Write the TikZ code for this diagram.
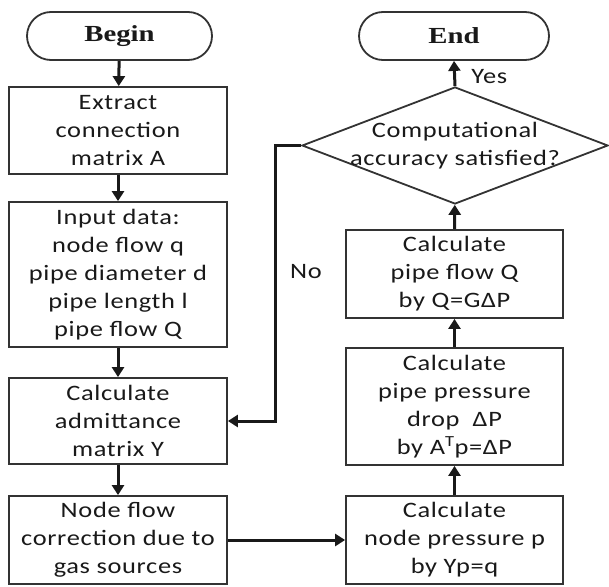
\documentclass[tikz,border=0pt]{standalone}
\usepackage{fontspec}
\setmainfont{Carlito}[FakeStretch=1.2, LetterSpace=3]
\newfontfamily\termfont{Liberation Serif}[FakeStretch=1.25]
\usetikzlibrary{shapes.geometric,shapes.misc,arrows.meta}

\begin{document}
\begin{tikzpicture}[x=1pt,y=-1pt,
  every node/.style={font=\fontsize{22}{28}\selectfont, text=black!90},
  box/.style={draw=black!80, line width=1.8pt, align=center, inner sep=0pt},
  term/.style={draw=black!80, line width=1.8pt, rounded rectangle, inner sep=0pt,
    minimum height=48pt, font=\termfont\bfseries\fontsize{23}{28}\selectfont},
  flow/.style={draw=black!90, line width=3pt, -{Triangle[length=10pt,width=12pt]}},
  lbl/.style={font=\fontsize{22}{24}\selectfont}]

\useasboundingbox (0,0) rectangle (609,586);

% left column
\node[term, minimum width=185pt] (begin) at (119.5,36) {Begin};
\node[box, minimum width=218pt, minimum height=87pt] (extract) at (118,130.5)
  {Extract\\connection\\matrix A};
\node[box, minimum width=218pt, minimum height=145pt] (input) at (118,274.5)
  {Input data:\\node flow q\\pipe diameter d\\pipe length l\\pipe flow Q};
\node[box, minimum width=218pt, minimum height=86pt] (admit) at (118,421)
  {Calculate\\admittance\\matrix Y};
\node[box, minimum width=218pt, minimum height=88pt] (corr) at (118,540)
  {Node flow\\correction due to\\gas sources};

% right column
\node[term, minimum width=190pt] (end) at (454,36) {End};
\node[diamond, draw=black!80, line width=1.8pt, inner sep=0pt,
  minimum width=306pt, minimum height=117pt,
  label={[align=center, font=\fontsize{22}{28}\selectfont]center:Computational\\accuracy satisfied?}]
  (check) at (455,145.5) {};
\node[box, minimum width=217pt, minimum height=88pt] (qflow) at (454.5,274)
  {Calculate\\pipe flow Q\\by Q=GΔP};
\node[box, minimum width=217pt, minimum height=117pt] (drop) at (454.5,406.5)
  {Calculate\\pipe pressure\\drop \ ΔP\\by A\textsuperscript{T}p=ΔP};
\node[box, minimum width=217pt, minimum height=88pt] (press) at (454.5,540)
  {Calculate\\node pressure p\\by Yp=q};

% loop-back corner points
\coordinate (loopT) at (275,145.5);
\coordinate (loopB) at (275,421);

% connectors
\draw[flow] (begin) -- (extract);
\draw[flow] (extract) -- (input);
\draw[flow] (input) -- (admit);
\draw[flow] (admit) -- (corr);
\draw[flow] (corr) -- (press);
\draw[flow] (press) -- (drop);
\draw[flow] (drop) -- (qflow);
\draw[flow] (qflow) -- (check);
\draw[flow] (check.north) -- (end.south)
  node[lbl, pos=0.38, right=12pt] (yes) {Yes};
\draw[flow] (check.west) -- (loopT) -- (loopB) -- (admit.east);
\node[lbl] (no) at (306,272) {No};
\end{tikzpicture}
\end{document}
